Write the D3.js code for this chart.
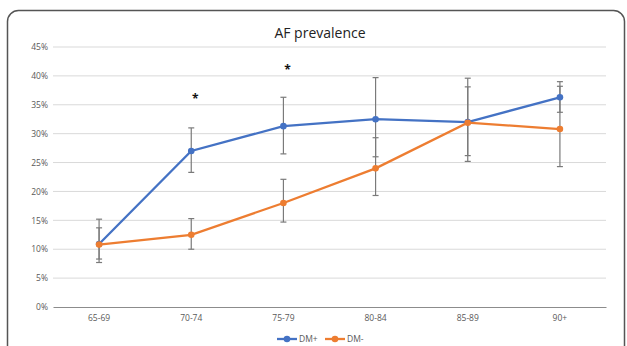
<!DOCTYPE html>
<html>
<head>
<meta charset="utf-8">
<script src="https://cdn.jsdelivr.net/npm/d3@7"></script>
<style>
  body { margin: 0; background: #fff; }
  svg { display: block; font-family: "Open Sans", "Liberation Sans", sans-serif; }
</style>
</head>
<body>
<svg width="627" height="346"></svg>
<script>
// chart data
const ageGroups = ["65-69", "70-74", "75-79", "80-84", "85-89", "90+"];
const dmPlus = [10.9, 27.0, 31.3, 32.5, 32.0, 36.3];
const dmPlusLow = [7.7, 23.3, 26.5, 26.0, 25.2, 33.7];
const dmPlusHigh = [15.2, 31.0, 36.3, 39.7, 39.6, 39.0];
const dmMinus = [10.8, 12.5, 18.0, 24.0, 31.9, 30.8];
const dmMinusLow = [8.3, 10.0, 14.7, 19.3, 26.2, 24.3];
const dmMinusHigh = [13.7, 15.3, 22.1, 29.3, 38.1, 38.2];
const yTicks = [0, 5, 10, 15, 20, 25, 30, 35, 40, 45];
const sigGroups = ["70-74", "75-79"];
const sigValues = [36.2, 41.2];

const svg = d3.select("svg");
const margin = {top: 47, left: 53, right: 21, bottom: 39}; // plot area inside the frame
const w = 627, h = 346;

// rounded frame
svg.append("rect")
  .attr("x", 7.5).attr("y", 10.5)
  .attr("width", 617).attr("height", 350)
  .attr("rx", 11)
  .attr("fill", "none")
  .attr("stroke", "#555")
  .attr("stroke-width", 1.5);

svg.append("text")
  .attr("x", 320).attr("y", 38)
  .attr("text-anchor", "middle")
  .attr("font-size", 14)
  .attr("fill", "#222")
  .text("AF prevalence");

const x = d3.scaleBand().domain(ageGroups).range([margin.left, w - margin.right]);
const y = d3.scaleLinear().domain([0, 45]).range([h - margin.bottom, margin.top]);
const cx = d => x(d) + x.bandwidth() / 2;

// gridlines
svg.append("g").selectAll("line")
  .data(yTicks.filter(d => d > 0))
  .enter().append("line")
  .attr("x1", margin.left).attr("x2", w - margin.right)
  .attr("y1", d => y(d)).attr("y2", d => y(d))
  .attr("stroke", "#d9d9d9").attr("stroke-width", 1);

const yAxis = d3.axisLeft(y).tickValues(yTicks).tickFormat(d => d + "%").tickSize(0).tickPadding(5);
const yg = svg.append("g").attr("transform", "translate(" + margin.left + ",0)").call(yAxis);
yg.select(".domain").remove();
yg.selectAll("text").attr("font-size", 8.5).attr("fill", "#595959").attr("font-family", "Open Sans, sans-serif");

const xAxis = d3.axisBottom(x).tickSize(0).tickPadding(8);
const xg = svg.append("g").attr("transform", "translate(0," + y(0) + ")").call(xAxis);
xg.select(".domain").attr("stroke", "#8c8c8c").attr("stroke-width", 1.2);
xg.selectAll("text").attr("font-size", 8.5).attr("fill", "#595959").attr("font-family", "Open Sans, sans-serif");

// error bars
function errorBars(low, high) {
  const g = svg.append("g").attr("stroke", "#7a7a7a").attr("stroke-width", 1.2);
  ageGroups.forEach((a, i) => {
    g.append("line").attr("x1", cx(a)).attr("x2", cx(a)).attr("y1", y(low[i])).attr("y2", y(high[i]));
    g.append("line").attr("x1", cx(a) - 3).attr("x2", cx(a) + 3).attr("y1", y(low[i])).attr("y2", y(low[i]));
    g.append("line").attr("x1", cx(a) - 3).attr("x2", cx(a) + 3).attr("y1", y(high[i])).attr("y2", y(high[i]));
  });
}
errorBars(dmPlusLow, dmPlusHigh);
errorBars(dmMinusLow, dmMinusHigh);

const line = d3.line().x((d, i) => cx(ageGroups[i])).y(d => y(d));
function series(vals, color) {
  svg.append("path").datum(vals)
    .attr("d", line).attr("fill", "none")
    .attr("stroke", color).attr("stroke-width", 2.3);
  svg.append("g").selectAll("circle").data(vals).enter().append("circle")
    .attr("cx", (d, i) => cx(ageGroups[i])).attr("cy", d => y(d))
    .attr("r", 3.3).attr("fill", color);
}
series(dmPlus, "#4472c4");
series(dmMinus, "#ed7d31");

// significance marks
svg.append("g").selectAll("text").data(sigGroups).enter().append("text")
  .attr("x", d => cx(d) + 4).attr("y", (d, i) => y(sigValues[i]) + 5)
  .attr("text-anchor", "middle").attr("font-size", 12).attr("font-weight", "bold")
  .attr("fill", "#111").text("*");

// legend
const legend = [{name: "DM+", color: "#4472c4", x: 277}, {name: "DM-", color: "#ed7d31", x: 325}];
const lg = svg.append("g");
legend.forEach(l => {
  lg.append("line").attr("x1", l.x).attr("x2", l.x + 20).attr("y1", 339).attr("y2", 339)
    .attr("stroke", l.color).attr("stroke-width", 2.3);
  lg.append("circle").attr("cx", l.x + 10).attr("cy", 339).attr("r", 3.3).attr("fill", l.color);
  lg.append("text").attr("x", l.x + 22).attr("y", 342).attr("font-size", 8.5)
    .attr("fill", "#595959").text(l.name);
});
</script>
</body>
</html>
